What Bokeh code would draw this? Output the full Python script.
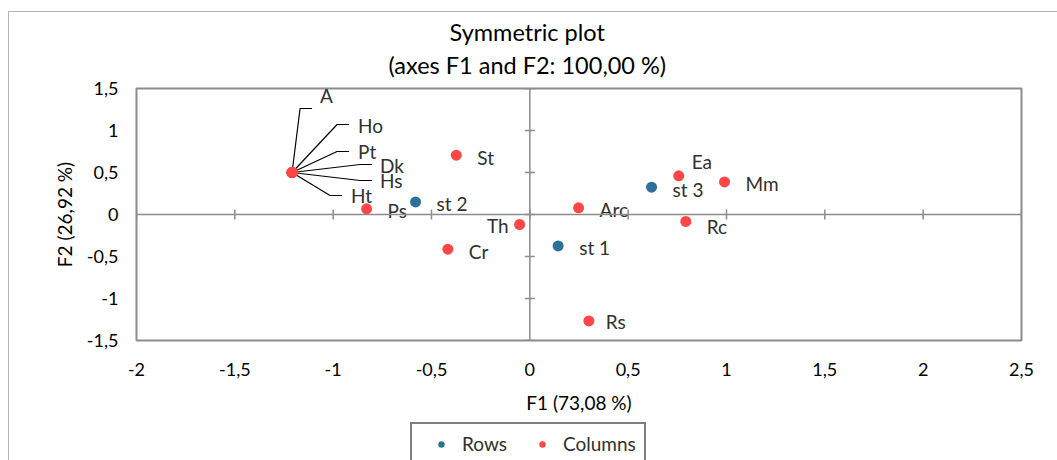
from bokeh.plotting import figure
from bokeh.layouts import column
from bokeh.models import (Range1d, FixedTicker, CustomJSTickFormatter, InlineStyleSheet,
                          Legend, LegendItem, ColumnDataSource, Span, Title)
from bokeh.core.properties import value
from bokeh.embed import file_html
from bokeh.resources import INLINE

# ---------------- data ----------------
title_lines = ["Symmetric plot", "(axes F1 and F2: 100,00 %)"]
x_title = "F1 (73,08 %)"
y_title = "F2 (26,92 %)"
x_ticks = [-2, -1.5, -1, -0.5, 0, 0.5, 1, 1.5, 2, 2.5]
y_ticks = [-1.5, -1, -0.5, 0, 0.5, 1, 1.5]

row_labels = ["st 1", "st 2", "st 3"]
row_f1 = [0.144, -0.581, 0.619]
row_f2 = [-0.374, 0.149, 0.325]

col_labels = ["A", "Ho", "Pt", "Dk", "Hs", "Ht", "Ps", "St", "Th", "Cr",
              "Arc", "Ea", "Mm", "Rc", "Rs"]
col_f1 = [-1.209, -1.209, -1.209, -1.209, -1.209, -1.209, -0.830, -0.374,
          -0.052, -0.417, 0.248, 0.757, 0.990, 0.793, 0.300]
col_f2 = [0.50, 0.50, 0.50, 0.50, 0.50, 0.50, 0.067, 0.706,
          -0.119, -0.413, 0.079, 0.46, 0.388, -0.083, -1.267]

# ---------------- layout / style ----------------
FONT = "Lato"
BLUE = "#2B7199"
RED = "#FF4747"
GRAY = "#8C8C8C"
LABEL_COLOR = "#303030"
W = 1057
H_MAIN, H_LEG = 418, 42
FRAME_W, FRAME_H = 885, 252
LEFT, TOP = 136, 88
X0, X1 = -2, 2.5
Y0, Y1 = -1.5, 1.5
PX_X = FRAME_W / (X1 - X0)
PX_Y = FRAME_H / (Y1 - Y0)

# label offsets in px (dx right, dy up); default right of point
DEFAULT_OFF = (21, -2)
label_off = {"A": (28, 77), "Ho": (66, 47), "Pt": (66, 21), "Dk": (88, 7),
             "Hs": (88, -8), "Ht": (59, -23), "Th": (-11, -1), "Ea": (13, 14),
             "Rc": (21, -5), "Rs": (17, -1)}
right_aligned = {"Th"}
# leader lines: elbow and end offsets in px
leaders = {"A": ((8, 64), (20, 64)), "Ho": ((45, 48), (57, 48)),
           "Pt": ((45, 21), (57, 21)), "Dk": ((68, 8), (80, 8)),
           "Hs": ((68, -8), (80, -8)), "Ht": ((38, -23), (50, -23))}

p = figure(width=W, height=H_MAIN, output_backend="svg", toolbar_location=None,
           x_range=Range1d(X0, X1), y_range=Range1d(Y0, Y1),
           min_border_left=LEFT, min_border_top=TOP,
           min_border_right=W - LEFT - FRAME_W,
           min_border_bottom=H_MAIN - TOP - FRAME_H)
p.frame_align = False
p.xgrid.visible = False
p.ygrid.visible = False
p.outline_line_color = GRAY
p.outline_line_width = 2
p.background_fill_color = "white"
p.border_fill_color = "white"

fmt = CustomJSTickFormatter(code="return tick.toString().replace('.', ',');")

for ax, ticks in ((p.xaxis[0], x_ticks), (p.yaxis[0], y_ticks)):
    ax.ticker = FixedTicker(ticks=ticks)
    ax.formatter = fmt
    ax.axis_line_color = None
    ax.major_tick_line_color = None
    ax.minor_tick_line_color = None
    ax.major_tick_in = 0
    ax.major_tick_out = 0
    ax.major_label_text_font = FONT
    ax.major_label_text_font_size = "18px"
    ax.major_label_text_color = "black"
    ax.axis_label_text_font = FONT
    ax.axis_label_text_font_size = "19px"
    ax.axis_label_text_font_style = "normal"
    ax.axis_label_text_color = "black"
p.xaxis[0].axis_label = x_title
p.yaxis[0].axis_label = y_title
p.xaxis[0].major_label_standoff = 22
p.yaxis[0].major_label_standoff = 18
p.xaxis[0].axis_label_standoff = 12
p.yaxis[0].axis_label_standoff = 8

# crossing axes through the origin
p.add_layout(Span(location=0, dimension="width", line_color=GRAY, line_width=1.5))
p.add_layout(Span(location=0, dimension="height", line_color=GRAY, line_width=1.5))
p.scatter(x=x_ticks, y=[0] * len(x_ticks), marker="dash", angle=1.5708, size=10,
          line_color=GRAY, line_width=1.5)
p.scatter(x=[0] * len(y_ticks), y=y_ticks, marker="dash", size=10,
          line_color=GRAY, line_width=1.5)

# leader lines
lx, ly = [], []
for name, fx, fy in zip(col_labels, col_f1, col_f2):
    if name in leaders:
        (ex, ey), (tx, ty) = leaders[name]
        lx.append([fx, fx + ex / PX_X, fx + tx / PX_X])
        ly.append([fy, fy + ey / PX_Y, fy + ty / PX_Y])
p.multi_line(lx, ly, line_color="black", line_width=1.2)

src_rows = ColumnDataSource(dict(x=row_f1, y=row_f2, name=row_labels))
src_cols = ColumnDataSource(dict(x=col_f1, y=col_f2, name=col_labels))
r_cols = p.scatter("x", "y", source=src_cols, size=11, fill_color=RED, line_color=None)
r_rows = p.scatter("x", "y", source=src_rows, size=11, fill_color=BLUE, line_color=None)

def label_source(names, xs, ys):
    xo, yo, al = [], [], []
    for n in names:
        dx, dy = label_off.get(n, DEFAULT_OFF)
        xo.append(dx)
        yo.append(-dy)
        al.append("right" if n in right_aligned else "left")
    return ColumnDataSource(dict(x=xs, y=ys, name=names, xo=xo, yo=yo, al=al))

for names, xs, ys in ((row_labels, row_f1, row_f2), (col_labels, col_f1, col_f2)):
    s = label_source(names, xs, ys)
    p.text("x", "y", text="name", source=s, x_offset="xo", y_offset="yo",
           text_align="al", text_baseline="middle", text_font=value(FONT),
           text_font_size="19px", text_color=LABEL_COLOR)

# titles (second line added first: nearest to the frame)
for t, off, st in ((title_lines[1], 252, 16), (title_lines[0], 313, -11)):
    p.add_layout(Title(text=t, align="left", vertical_align="top", offset=off,
                       standoff=st, text_font=FONT, text_font_size="23.5px",
                       text_font_style="normal", text_color="black"), "above")

# legend strip below the chart (its glyphs use the same sources, out of view)
p2 = figure(width=W, height=H_LEG, output_backend="svg", toolbar_location=None,
            x_axis_type=None, y_axis_type=None,
            x_range=Range1d(100, 101), y_range=Range1d(100, 101),
            min_border_left=410, min_border_right=0,
            min_border_top=4, min_border_bottom=0)
p2.frame_align = False
p2.outline_line_color = None
p2.background_fill_color = "white"
p2.border_fill_color = "white"
l_rows = p2.scatter("x", "y", source=src_rows, size=8, fill_color=BLUE, line_color=None)
l_cols = p2.scatter("x", "y", source=src_cols, size=8, fill_color=RED, line_color=None)

legend = Legend(items=[LegendItem(label="Rows", renderers=[l_rows]),
                       LegendItem(label="Columns", renderers=[l_cols])],
                orientation="horizontal", location="top_left", margin=0,
                padding=8, glyph_width=42, glyph_height=16, label_standoff=0,
                spacing=14, border_line_color="black", border_line_width=2,
                background_fill_color="white", background_fill_alpha=1,
                label_text_font=FONT, label_text_font_size="19px",
                label_text_color=LABEL_COLOR)
p2.add_layout(legend, "center")

border_css = InlineStyleSheet(css=(
    ":host::after { content: ''; position: absolute; left: 8px; top: 11px; "
    "right: 0; bottom: 0; border-left: 1px solid #B4B4B4; "
    "border-top: 1px solid #B4B4B4; pointer-events: none; }"))

layout = column(p, p2, spacing=0, stylesheets=[border_css])
open("out.html", "w").write(file_html(layout, INLINE))
